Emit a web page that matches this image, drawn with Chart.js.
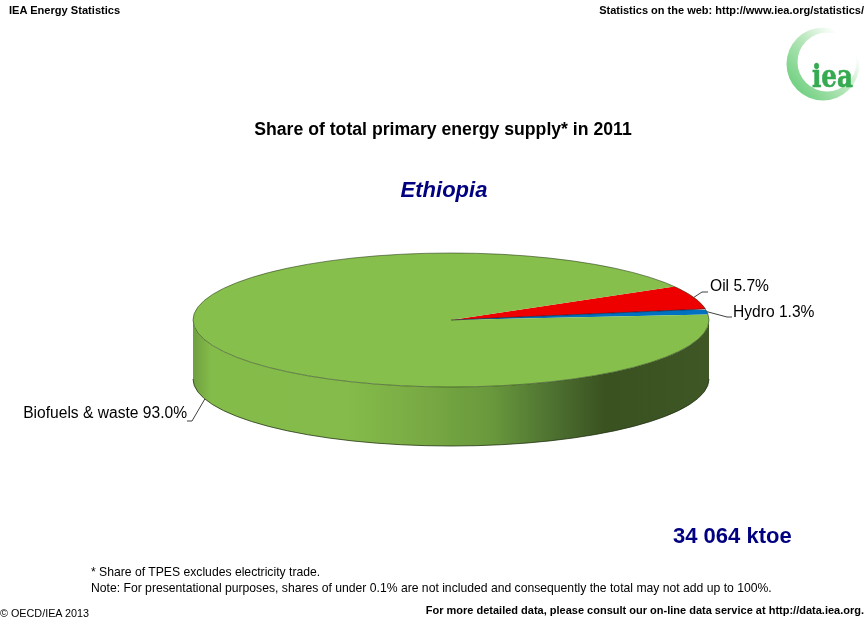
<!DOCTYPE html>
<html>
<head>
<meta charset="utf-8">
<title>Share of total primary energy supply in 2011: Ethiopia</title>
<script src="https://cdn.jsdelivr.net/npm/chart.js@4/dist/chart.umd.js"></script>
<style>
  html, body { margin: 0; padding: 0; background: #fff; }
  #page { position: relative; width: 865px; height: 621px; overflow: hidden; font-family: "Liberation Sans", Arial, sans-serif; color: #000; }
  #page canvas { position: absolute; left: 0; top: 0; }
  .t { position: absolute; white-space: nowrap; line-height: 1; }
  #logo { position: absolute; left: 780px; top: 22px; }
</style>
</head>
<body>
<div id="page">
  <canvas id="pie" width="865" height="621"></canvas>
  <div class="t" style="left:9px;top:5px;font-size:11.1px;font-weight:bold">IEA Energy Statistics</div>
  <div class="t" style="right:1px;top:5px;font-size:11px;font-weight:bold">Statistics on the web: http://www.iea.org/statistics/</div>
  <svg id="logo" width="85" height="85" viewBox="0 0 85 85">
    <defs>
      <linearGradient id="ring" x1="0.1" y1="0.85" x2="0.9" y2="0.15">
        <stop offset="0" stop-color="#6fcf7f"/>
        <stop offset="0.5" stop-color="#b5e6b9"/>
        <stop offset="0.9" stop-color="#ffffff"/>
      </linearGradient>
    </defs>
    <circle cx="43" cy="42" r="36.5" fill="url(#ring)"/>
    <circle cx="47" cy="40" r="29.5" fill="#fff"/>
    <text x="32" y="65" font-family="'DejaVu Serif', serif" font-weight="bold" font-size="31" fill="#35aa50" stroke="#35aa50" stroke-width="0.6" textLength="41" lengthAdjust="spacingAndGlyphs">iea</text>
  </svg>
  <div class="t" style="left:0;width:886px;text-align:center;top:121px;font-size:17.65px;font-weight:bold">Share of total primary energy supply* in 2011</div>
  <div class="t" style="left:0;width:888px;text-align:center;top:179px;font-size:22px;font-weight:bold;font-style:italic;color:#000080">Ethiopia</div>
  <div class="t" style="left:673px;top:525px;font-size:22px;font-weight:bold;color:#000080">34 064 ktoe</div>
  <div class="t" style="left:91px;top:566px;font-size:12.18px">* Share of TPES excludes electricity trade.</div>
  <div class="t" style="left:91px;top:582px;font-size:12.18px">Note: For presentational purposes, shares of under 0.1% are not included and consequently the total may not add up to 100%.</div>
  <div class="t" style="left:0;top:608px;font-size:10.8px">© OECD/IEA 2013</div>
  <div class="t" style="right:1px;top:605px;font-size:11px;font-weight:bold">For more detailed data, please consult our on-line data service at http://data.iea.org.</div>
</div>
<script>
// Fuel shares of total primary energy supply, percent
const fuels = ["Oil", "Hydro", "Biofuels & waste"];
const shares = [5.7, 1.3, 93.0];
const sliceColors = ["#ee0000", "#0070c0", "#86bf4c"];

// Tilted-disc look: vertical squash of the pie and height of its rim
const SQUASH = 67 / 258;
const RIM = 59;
// Where each label sits and where its leader line bends
const labelSpots = [
  { x: 710, y: 287, bendX: 702, bendY: 292, endX: 708, align: "left" },
  { x: 733, y: 313, bendX: 727, bendY: 317, endX: 732, align: "left" },
  { x: 187, y: 414, bendX: 192, bendY: 421, endX: 187, align: "right" }
];

function applyTilt(ctx, arc) {
  ctx.translate(arc.x, arc.y);
  ctx.scale(1, SQUASH);
  ctx.translate(-arc.x, -arc.y);
}

const tiltedPie = {
  id: "tiltedPie",
  // Front rim below the top face, shaded left to right
  beforeDatasetsDraw(chart) {
    const ctx = chart.ctx;
    const arcs = chart.getDatasetMeta(0).data;
    const first = arcs[0];
    const cx = first.x, cy = first.y, r = first.outerRadius;
    const ry = r * SQUASH;
    const shade = ctx.createLinearGradient(cx - r, 0, cx + r, 0);
    shade.addColorStop(0, "#6f9f40");
    shade.addColorStop(0.035, "#84bc4a");
    shade.addColorStop(0.30, "#84bb4a");
    shade.addColorStop(0.42, "#7bad45");
    shade.addColorStop(0.58, "#68983c");
    shade.addColorStop(0.70, "#4d7030");
    shade.addColorStop(0.80, "#3a5120");
    shade.addColorStop(1, "#3e5725");
    ctx.save();
    ctx.beginPath();
    ctx.ellipse(cx, cy + RIM, r, ry, 0, 0, Math.PI);
    ctx.ellipse(cx, cy, r, ry, 0, Math.PI, 0, true);
    ctx.closePath();
    ctx.fillStyle = shade;
    ctx.fill();
    ctx.strokeStyle = "rgba(30,45,15,0.75)";
    ctx.lineWidth = 1;
    ctx.beginPath();
    ctx.ellipse(cx, cy + RIM, r, ry, 0, 0, Math.PI);
    ctx.stroke();
    ctx.restore();
    ctx.save();
    applyTilt(ctx, first);
  },
  // Top face edge, slice divider, leader lines and value labels
  afterDatasetsDraw(chart) {
    const ctx = chart.ctx;
    ctx.restore();
    const arcs = chart.getDatasetMeta(0).data;
    const { x: cx, y: cy, outerRadius: r } = arcs[0];
    const ry = r * SQUASH;
    ctx.save();
    ctx.strokeStyle = "rgba(40,55,25,0.7)";
    ctx.lineWidth = 0.8;
    ctx.beginPath();
    ctx.ellipse(cx, cy, r, ry, 0, 0, Math.PI * 2);
    ctx.stroke();
    // Dark seam between the two small slices
    const seam = arcs[1].startAngle;
    ctx.strokeStyle = "rgba(20,20,40,0.8)";
    ctx.beginPath();
    ctx.moveTo(cx, cy);
    ctx.lineTo(cx + Math.cos(seam) * r, cy + Math.sin(seam) * ry);
    ctx.stroke();
    ctx.font = "15.6px 'Liberation Sans', Arial, sans-serif";
    ctx.textBaseline = "middle";
    ctx.fillStyle = "#000";
    arcs.forEach((arc, i) => {
      const mid = (arc.startAngle + arc.endAngle) / 2;
      const spot = labelSpots[i];
      const px = cx + Math.cos(mid) * r;
      // The largest slice's mid-angle faces the viewer, so its leader meets the rim's lower edge
      const py = cy + Math.sin(mid) * ry + (i === 2 ? RIM : 0);
      ctx.strokeStyle = "#404040";
      ctx.lineWidth = 1;
      ctx.beginPath();
      ctx.moveTo(px, py);
      ctx.lineTo(spot.bendX, spot.bendY);
      ctx.lineTo(spot.endX, spot.bendY);
      ctx.stroke();
      ctx.textAlign = spot.align;
      ctx.fillText(fuels[i] + " " + shares[i].toFixed(1) + "%", spot.x, spot.y);
    });
    ctx.restore();
  }
};

new Chart(document.getElementById("pie"), {
  type: "pie",
  data: {
    labels: fuels,
    datasets: [{ data: shares, backgroundColor: sliceColors, borderWidth: 0 }]
  },
  options: {
    responsive: false,
    animation: false,
    rotation: 60,
    // Leaves a 516px square whose centre is the disc's centre
    layout: { padding: { left: 193, right: 156, top: 62, bottom: 43 } },
    plugins: { legend: { display: false }, tooltip: { enabled: false }, title: { display: false } }
  },
  plugins: [tiltedPie]
});
</script>
</body>
</html>
